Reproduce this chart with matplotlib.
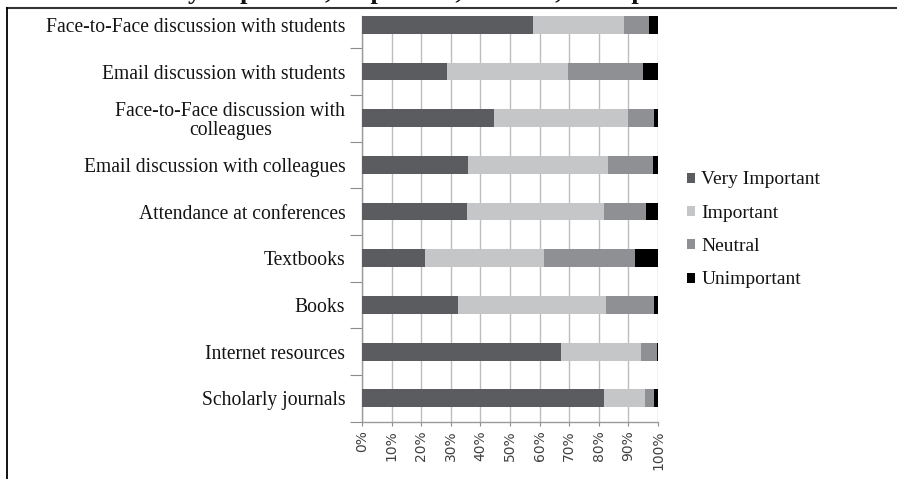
import matplotlib
matplotlib.use("Agg")
import matplotlib.pyplot as plt
import numpy as np
from matplotlib.lines import Line2D
from matplotlib.patches import Patch
from matplotlib.ticker import PercentFormatter, FixedLocator

# Survey responses: share of each rating per information source (top to bottom)
sources = [
    "Face-to-Face discussion with students",
    "Email discussion with students",
    "Face-to-Face discussion with\ncolleagues",
    "Email discussion with colleagues",
    "Attendance at conferences",
    "Textbooks",
    "Books",
    "Internet resources",
    "Scholarly journals",
]
ratings = ["Very Important", "Important", "Neutral", "Unimportant"]

very_important = [57.9, 28.6, 44.7, 35.9, 35.6, 21.2, 32.5, 67.3, 81.8]
important = [30.7, 41.0, 45.2, 47.1, 46.2, 40.2, 49.9, 27.0, 13.8]
neutral = [8.5, 25.3, 8.7, 15.4, 14.1, 30.7, 16.2, 5.4, 3.2]
unimportant = [2.9, 5.1, 1.4, 1.6, 4.1, 7.9, 1.4, 0.3, 1.2]

colors = ["#5b5c60", "#c5c6c8", "#8f9093", "#000000"]

W, H = 897, 479
fig = plt.figure(figsize=(W / 100, H / 100), dpi=100)
ax = fig.add_axes([362 / W, 1 - 421.7 / H, 296 / W, (421.7 - 16) / H])

serif = ["Liberation Serif", "DejaVu Serif"]

# 100% stacked bars
series = np.array([very_important, important, neutral, unimportant])
totals = series.sum(axis=0)
shares = series / totals
y = np.arange(len(sources))
left = np.zeros(len(sources))
for share, color, label in zip(shares, colors, ratings):
    ax.barh(y, share, left=left, height=0.38, color=color, label=label,
            zorder=3, linewidth=0)
    left += share

ax.set_xlim(0, 1)
ax.set_ylim(len(sources) - 0.5, -0.19)

# x axis: percentages, rotated
ax.xaxis.set_major_locator(FixedLocator(np.linspace(0, 1, 11)))
ax.xaxis.set_major_formatter(PercentFormatter(1.0, decimals=0))
ax.tick_params(axis="x", length=3, width=0.8, color="#8c8c8c", pad=3,
               labelsize=10, labelcolor="#404040", labelrotation=90)
ax.grid(axis="x", color="#bdbdbd", linewidth=1, zorder=0)

# y axis: tick marks between categories, labels at category centres
ax.yaxis.set_major_locator(FixedLocator(np.arange(len(sources)) + 0.5))
ax.yaxis.set_major_formatter(plt.NullFormatter())
ax.yaxis.set_minor_locator(FixedLocator(y))
ax.set_yticks(y, sources, minor=True)
ax.tick_params(axis="y", which="major", length=8.6, width=0.8, color="#8c8c8c")
ax.tick_params(axis="y", which="minor", length=0, pad=12)
for lab in ax.get_yticklabels(minor=True):
    lab.set_fontfamily(serif)
    lab.set_fontsize(14.1)
    lab.set_color("#141414")
    lab.set_multialignment("center")
    lab.set_linespacing(1.0)

for side in ("top", "right"):
    ax.spines[side].set_visible(False)
for side in ("left", "bottom"):
    ax.spines[side].set_color("#9a9a9a")
    ax.spines[side].set_linewidth(1)

handles = [Patch(facecolor=c, edgecolor="none") for c in colors]
leg = fig.legend(handles, ratings, loc="center left",
                 bbox_to_anchor=(687 / W, 1 - 230 / H), frameon=False,
                 prop={"family": serif, "size": 14},
                 handlelength=0.42, handleheight=0.42, handletextpad=0.32,
                 labelspacing=0.84, borderpad=0, borderaxespad=0)
for t in leg.get_texts():
    t.set_color("#141414")

# table cell borders and the heading above, cut off at the top edge
fig.add_artist(Line2D([6.5 / W, 1], [1 - 7.5 / H, 1 - 7.5 / H],
                      color="#333333", linewidth=1.5))
fig.add_artist(Line2D([6.5 / W, 6.5 / W], [0, 1 - 7.5 / H],
                      color="#000000", linewidth=1.3))
fig.text(148 / W, 1 + 0.5 / H, "Very Important, Important, Neutral, Unimportant",
         family=serif, fontsize=19, fontweight="bold", color="#111111",
         ha="left", va="baseline")

fig.savefig("out.png", dpi=100)
